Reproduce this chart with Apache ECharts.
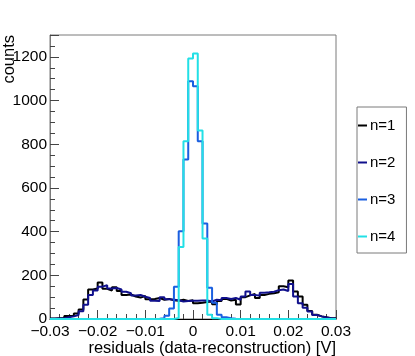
<!DOCTYPE html>
<html>
<head>
<meta charset="utf-8">
<script src="https://cdn.jsdelivr.net/npm/echarts@6/dist/echarts.min.js"></script>
<style>
  html, body { margin: 0; padding: 0; background: #fff; }
  #main { width: 415px; height: 356px; }
</style>
</head>
<body>
<div id="main"></div>
<script>
// histogram binning: 60 bins of 0.001 V from -0.03 to 0.03
var binStart = -0.03;
var binWidth = 0.001;
var nBins = 60;

var seriesNames = ['n=1', 'n=2', 'n=3', 'n=4'];
var colors = ['#000000', '#10108c', '#1a5fe0', '#22e0e6'];

// counts per bin
var n1 = [2, 3, 4, 14, 15, 25, 43, 89, 135, 140, 167, 138, 130, 145, 128, 110, 112, 103, 98, 105, 90, 92, 96, 88, 92, 86, 84, 88, 82, 86,
          72, 74, 78, 80, 68, 82, 92, 85, 88, 66, 100, 108, 115, 96, 110, 115, 118, 122, 150, 145, 176, 126, 103, 65, 37, 20, 12, 8, 4, 3];
var n2 = [1, 2, 3, 8, 12, 18, 35, 65, 110, 130, 148, 155, 140, 142, 135, 125, 118, 108, 110, 102, 96, 84, 82, 100, 90, 88, 86, 80, 82, 84,
          83, 85, 85, 80, 88, 86, 96, 92, 96, 88, 103, 126, 110, 107, 120, 122, 125, 132, 135, 128, 160, 103, 72, 52, 34, 18, 12, 7, 4, 2];
var n3 = [0, 0, 0, 0, 0, 0, 0, 0, 0, 0, 0, 0, 0, 0, 0, 0, 0, 0, 0, 0, 0, 0, 1, 3, 15, 48, 148, 402, 730, 1088,
          1065, 814, 437, 143, 74, 20, 8, 3, 1, 0, 0, 0, 0, 0, 0, 0, 0, 0, 0, 0, 0, 0, 0, 0, 0, 0, 0, 0, 0, 0];
var n4 = [0, 0, 0, 0, 0, 0, 0, 0, 0, 0, 0, 0, 0, 0, 0, 0, 0, 0, 0, 0, 0, 0, 0, 0, 0, 0, 5, 330, 814, 1192,
          1215, 863, 368, 20, 4, 0, 0, 0, 0, 0, 0, 0, 0, 0, 0, 0, 0, 0, 0, 0, 0, 0, 0, 0, 0, 0, 0, 0, 0, 0];

var font = '"Liberation Sans", Arial, sans-serif';

// turn bin contents into step points: one point per lower edge plus the last upper edge
function toSteps(values) {
  var pts = [];
  for (var i = 0; i < nBins; i++) {
    pts.push([+(binStart + i * binWidth).toFixed(4), values[i]]);
  }
  pts.push([+(binStart + nBins * binWidth).toFixed(4), values[nBins - 1]]);
  return pts;
}

var chart = echarts.init(document.getElementById('main'), null, { renderer: 'canvas' });

chart.setOption({
  backgroundColor: '#fff',
  animation: false,
  color: colors,
  textStyle: { fontFamily: font },
  grid: {
    left: 50,
    top: 35,
    right: 79,
    bottom: 37,
    outerBoundsMode: 'none',
    show: true,
    borderColor: '#7a7a7a',
    borderWidth: 1
  },
  legend: {
    orient: 'vertical',
    left: 357,
    top: 107,
    padding: [11, 11, 9, 1],
    itemGap: 22,
    itemWidth: 9,
    itemHeight: 2,
    icon: 'rect',
    borderColor: '#7a7a7a',
    borderWidth: 1,
    backgroundColor: '#fff',
    textStyle: { fontFamily: font, fontSize: 15, color: '#000', padding: [0, 0, 0, -2] },
    data: seriesNames
  },
  xAxis: {
    type: 'value',
    min: -0.03,
    max: 0.03,
    interval: 0.01,
    name: 'residuals (data-reconstruction) [V]',
    nameLocation: 'end',
    nameGap: 0,
    nameMoveOverlap: false,
    nameTextStyle: {
      fontFamily: font,
      fontSize: 16.5,
      color: '#000',
      align: 'right',
      verticalAlign: 'top',
      padding: [21, 0, 0, 0]
    },
    axisLine: { show: true, onZero: false, lineStyle: { color: '#000', width: 1 } },
    axisTick: { show: true, inside: true, length: 9, lineStyle: { color: '#444' } },
    minorTick: { show: true, splitNumber: 5, length: 5, lineStyle: { color: '#444' } },
    splitLine: { show: false },
    axisLabel: {
      margin: 5,
      fontFamily: font,
      fontSize: 15.5,
      color: '#000',
      formatter: function (v) {
        if (Math.abs(v) < 1e-9) return '0';
        return (v < 0 ? '\u2212' : '') + Math.abs(v).toFixed(2);
      }
    }
  },
  yAxis: {
    type: 'value',
    min: 0,
    max: 1300,
    interval: 200,
    axisLine: { show: true, onZero: false, lineStyle: { color: '#7a7a7a', width: 1 } },
    axisTick: { show: true, inside: true, length: 9, lineStyle: { color: '#444' } },
    minorTick: { show: true, splitNumber: 4, length: 5, lineStyle: { color: '#444' } },
    splitLine: { show: false },
    axisLabel: {
      margin: 3,
      fontFamily: font,
      fontSize: 15.5,
      color: '#000',
      showMaxLabel: false,
      formatter: function (v) { return String(v); }
    }
  },
  graphic: [{
    type: 'text',
    x: 1,
    y: 35,
    rotation: Math.PI / 2,
    style: {
      text: 'counts',
      font: '16.5px ' + font,
      fill: '#000',
      align: 'right',
      verticalAlign: 'top'
    }
  }],
  series: [n1, n2, n3, n4].map(function (vals, k) {
    return {
      name: seriesNames[k],
      type: 'line',
      step: 'end',
      symbol: 'none',
      data: toSteps(vals),
      lineStyle: { width: 2, color: colors[k] },
      z: 2 + k
    };
  })
});
</script>
</body>
</html>
